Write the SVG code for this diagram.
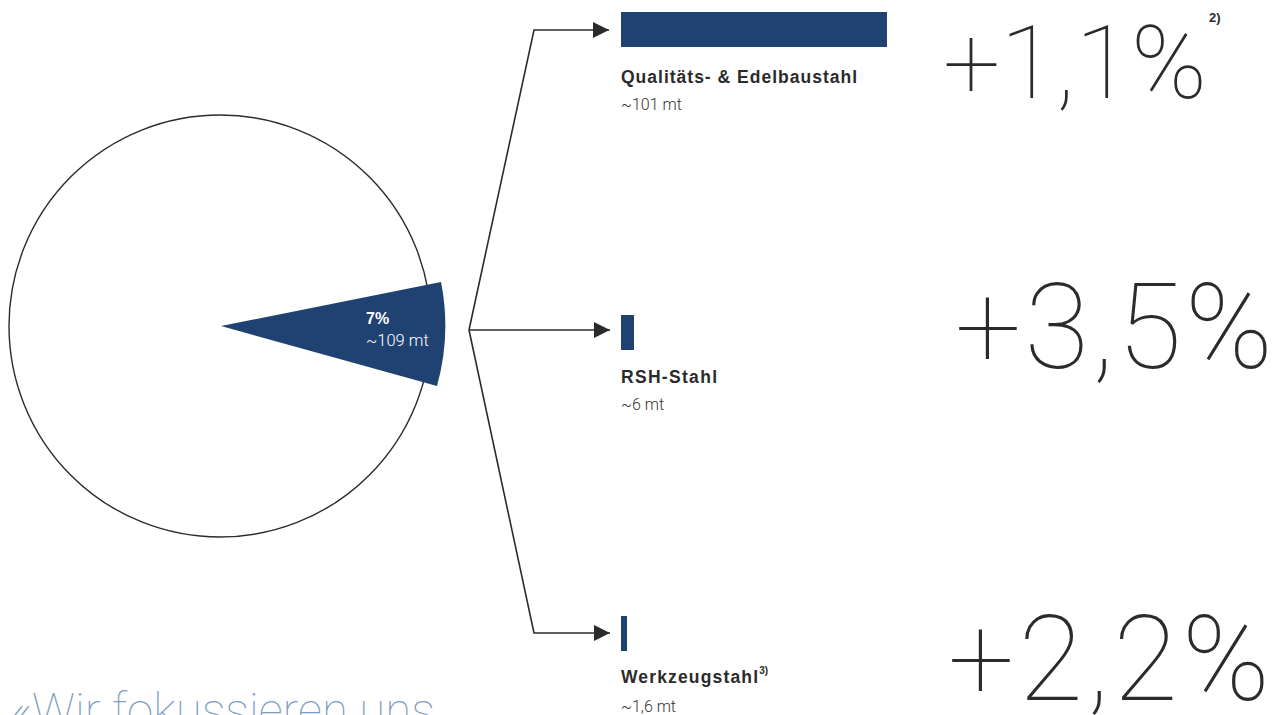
<svg xmlns="http://www.w3.org/2000/svg" width="1284" height="715" viewBox="0 0 1284 715">
<style>
.bar{fill:#1f4273}
.lbl{font-family:"Liberation Sans",Arial,sans-serif;font-weight:bold;font-size:17.5px;fill:#2b2b2b}
.val{font-family:Roboto,"Liberation Sans",sans-serif;font-weight:300;font-size:16px;fill:#333}
.big{font-family:Roboto,"Liberation Sans",sans-serif;font-weight:100;fill:#2b2b2b}
.conn{fill:none;stroke:#2b2b2b;stroke-width:1.6}
</style>
<defs>
<marker id="ah" viewBox="0 0 16 16" refX="16" refY="8" markerWidth="16" markerHeight="16" markerUnits="userSpaceOnUse" orient="auto">
<path d="M0,0 L16,8 L0,16 Z" fill="#2b2b2b"/>
</marker>
</defs>
<rect width="1284" height="715" fill="#fff"/>
<g id="pie">
<circle cx="220" cy="326" r="211" fill="none" stroke="#2b2b2b" stroke-width="1.4"/>
<path d="M221,326 L441,282 A224,224 0 0 1 437,386 Z" fill="#1f4273"/>
<text x="366" y="324" font-family="Liberation Sans,Arial,sans-serif" font-weight="bold" font-size="16" fill="#fff">7%</text>
<text x="366" y="346" font-family="Roboto,Liberation Sans,sans-serif" font-weight="300" font-size="16.5" fill="#fff">~109 mt</text>
</g>
<g id="connectors">
<path class="conn" d="M469,330 L534,30 L609,30" marker-end="url(#ah)"/>
<path class="conn" d="M469,330 L610,330" marker-end="url(#ah)"/>
<path class="conn" d="M469,330 L534,633 L610,633" marker-end="url(#ah)"/>
</g>
<g id="node-qualitaet">
<rect class="bar" x="621" y="12" width="266" height="35"/>
<text class="lbl" x="621" y="83" textLength="236" lengthAdjust="spacing">Qualitäts- &amp; Edelbaustahl</text>
<text class="val" x="621" y="110">~101 mt</text>
<text class="big" x="943" y="98" font-size="102" textLength="264" lengthAdjust="spacing">+1,1%</text>
<text x="1209" y="22" font-family="Liberation Sans,Arial,sans-serif" font-weight="bold" font-size="13" fill="#2b2b2b">2)</text>
</g>
<g id="node-rsh">
<rect class="bar" x="621" y="315" width="13" height="35"/>
<text class="lbl" x="621" y="383" textLength="96" lengthAdjust="spacing">RSH-Stahl</text>
<text class="val" x="621" y="410">~6 mt</text>
<text class="big" x="955" y="368" font-size="118" textLength="318" lengthAdjust="spacing">+3,5%</text>
</g>
<g id="node-werkzeug">
<rect class="bar" x="621" y="616" width="6" height="35"/>
<text class="lbl" x="621" y="683"><tspan textLength="137" lengthAdjust="spacing">Werkzeugstahl</tspan><tspan font-size="10" dy="-9">3)</tspan></text>
<text class="val" x="621" y="712">~1,6 mt</text>
<text class="big" x="948" y="700" font-size="118" textLength="322" lengthAdjust="spacing">+2,2%</text>
</g>
<text x="11" y="727" font-family="Roboto,Liberation Sans,sans-serif" font-weight="100" font-size="47.5" fill="#7d9cc2">«Wir fokussieren uns</text>
</svg>
